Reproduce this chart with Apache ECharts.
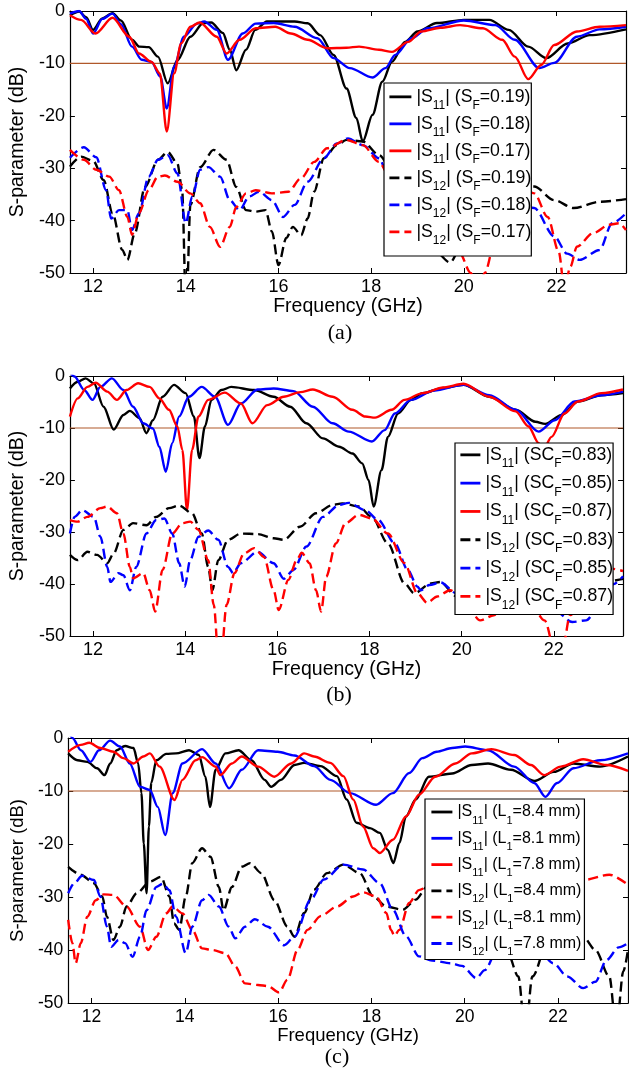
<!DOCTYPE html>
<html><head><meta charset="utf-8">
<script src="https://cdn.jsdelivr.net/npm/echarts@6/dist/echarts.min.js"></script>
<style>html,body{margin:0;padding:0;background:#fff}#c{width:629px;height:1077px}</style>
</head><body><div id="c"></div>
<script>
// ---------- axis settings ----------
const xMin = 11.5, xMax = 23.5;
const xTicks = [12, 14, 16, 18, 20, 22];
const yMin = -50, yMax = 0, yStep = 10;
const refLevel = -10;
const xName = 'Frequency (GHz)';
const yName = 'S-parameter (dB)';
const captions = ['(a)', '(b)', '(c)'];

// ---------- legend names ----------
const namesA = ['|S11| (SF=0.19)', '|S11| (SF=0.18)', '|S11| (SF=0.17)', '|S12| (SF=0.19)', '|S12| (SF=0.18)', '|S12| (SF=0.17)'];
const namesB = ['|S11| (SCF=0.83)', '|S11| (SCF=0.85)', '|S11| (SCF=0.87)', '|S12| (SCF=0.83)', '|S12| (SCF=0.85)', '|S12| (SCF=0.87)'];
const namesC = ['|S11| (L1=8.4 mm)', '|S11| (L1=8.1 mm)', '|S11| (L1=7.8 mm)', '|S12| (L1=8.4 mm)', '|S12| (L1=8.1 mm)', '|S12| (L1=7.8 mm)'];

// ---------- panel (a) data [GHz, dB] ----------
const a_S11_019 = [[11.5,-0.8],[11.7,-0.1],[11.85,-1.2],[12.0,-3.6],[12.2,-1.4],[12.42,-0.4],[12.6,-1.8],[12.84,-5.5],[13.0,-6.8],[13.2,-6.9],[13.4,-8.7],[13.61,-13.8],[13.82,-9.4],[14.1,-4.9],[14.38,-2.3],[14.55,-2.2],[14.8,-4.2],[14.95,-7.4],[15.09,-11.3],[15.3,-7.4],[15.5,-3.6],[15.75,-2.0],[16.0,-2.0],[16.35,-2.0],[16.63,-2.35],[16.9,-4.6],[17.19,-8.4],[17.47,-14.8],[17.68,-20.4],[17.82,-24.9],[18.03,-19.8],[18.24,-13.5],[18.45,-9.7],[18.73,-5.9],[19.0,-3.9],[19.42,-2.3],[20.0,-1.7],[20.55,-1.7],[20.97,-3.6],[21.39,-6.8],[21.78,-9.0],[22.24,-6.2],[22.72,-4.6],[23.5,-3.5]];
const a_S11_018 = [[11.5,-0.5],[11.7,0],[11.85,-1.5],[12.0,-4.3],[12.2,-1.5],[12.42,-0.5],[12.6,-2.5],[12.84,-6.8],[13.05,-9.3],[13.26,-9.7],[13.45,-12.5],[13.59,-18.6],[13.75,-10.6],[13.96,-4.9],[14.24,-2.4],[14.4,-2.0],[14.67,-3.6],[14.91,-9.3],[15.23,-4.3],[15.51,-2.4],[15.9,-2.3],[16.35,-3.0],[16.84,-5.2],[17.19,-9.0],[17.54,-10.9],[18.03,-12.7],[18.31,-10.9],[18.52,-8.4],[18.87,-5.2],[19.22,-3.3],[20.0,-1.8],[20.68,-2.7],[21.1,-5.5],[21.63,-10.9],[21.95,-9.9],[22.44,-4.9],[22.93,-3.5],[23.5,-3.0]];
const a_S11_017 = [[11.5,-0.8],[11.74,-1.7],[12.05,-4.3],[12.42,-1.3],[12.78,-4.9],[12.99,-8.1],[13.26,-9.7],[13.44,-11.9],[13.59,-23.0],[13.75,-11.9],[13.9,-6.2],[14.1,-3.0],[14.3,-2.2],[14.67,-4.9],[14.88,-8.1],[15.16,-5.5],[15.51,-3.3],[15.93,-3.0],[16.27,-4.3],[16.63,-5.5],[17.05,-7.1],[17.47,-7.0],[17.74,-6.8],[18.17,-7.4],[18.45,-7.8],[18.8,-5.9],[19.08,-3.9],[19.5,-3.2],[19.92,-2.7],[20.41,-3.3],[20.83,-5.5],[21.1,-8.7],[21.39,-13.0],[21.67,-10.3],[21.95,-6.5],[22.44,-3.9],[22.93,-3.0],[23.5,-2.7]];
const a_S12_019 = [[11.5,-29.7],[11.74,-27.8],[12.0,-28.6],[12.23,-32.3],[12.42,-38.6],[12.63,-45.6],[12.74,-47.5],[12.9,-42.4],[13.12,-33.6],[13.4,-28.4],[13.61,-26.9],[13.82,-29.1],[13.92,-34],[14.01,-58],[14.1,-37],[14.31,-29.8],[14.6,-26.5],[14.88,-28.4],[15.09,-33.6],[15.3,-38.0],[15.51,-38.3],[15.72,-38.0],[15.86,-42.1],[16.0,-48.5],[16.17,-43.3],[16.31,-41.2],[16.49,-42.8],[16.63,-39.6],[16.77,-34.5],[16.98,-28.1],[17.26,-25.6],[17.47,-24.6],[17.82,-24.9],[18.17,-27.5],[18.6,-33],[19.0,-40],[19.4,-46],[19.7,-48],[20.0,-44],[20.5,-37],[21.0,-33.5],[21.52,-33.5],[21.95,-36.1],[22.37,-37.6],[22.94,-36.4],[23.5,-35.9]];
const a_S12_018 = [[11.5,-28],[11.8,-26],[12.07,-27.9],[12.28,-34.2],[12.39,-39.6],[12.56,-38],[12.74,-38],[12.84,-41.8],[12.99,-38.6],[13.2,-31.6],[13.4,-28.4],[13.61,-27.5],[13.82,-31],[14.0,-40.5],[14.14,-35.4],[14.31,-30.3],[14.49,-29.8],[14.74,-31.6],[14.95,-36.1],[15.16,-38],[15.37,-35.4],[15.58,-34.5],[15.86,-36.1],[16.1,-39.3],[16.35,-37],[16.63,-32.6],[16.98,-28.1],[17.26,-25.3],[17.5,-24.3],[17.82,-25.6],[18.17,-28.1],[18.34,-30.7],[18.6,-33],[19.0,-37],[19.5,-40],[20.0,-40],[20.5,-38],[21.0,-36],[21.52,-37.6],[21.95,-43],[22.23,-46.3],[22.5,-47.5],[22.93,-45.6],[23.2,-40.5],[23.5,-38.6]];
const a_S12_017 = [[11.5,-26.5],[11.8,-28.4],[12.07,-30.3],[12.35,-31.6],[12.56,-34.2],[12.74,-39.3],[12.84,-42.7],[12.99,-38.6],[13.2,-34.2],[13.4,-31.6],[13.55,-31.4],[13.82,-32.6],[14.1,-34.8],[14.31,-36.7],[14.52,-41.2],[14.74,-45],[14.95,-41.2],[15.09,-37.4],[15.3,-34.8],[15.51,-34.2],[15.86,-34.8],[16.21,-34.5],[16.49,-31.9],[16.77,-28.8],[17.05,-26.2],[17.47,-24.6],[17.82,-25.6],[18.17,-28.8],[18.38,-31.3],[19.0,-37],[19.5,-42],[19.9,-46],[20.15,-50],[20.3,-54],[20.45,-50],[20.7,-43],[21.0,-37.5],[21.3,-34],[21.52,-34.8],[21.81,-39.3],[22.05,-46],[22.17,-53],[22.3,-48.8],[22.44,-45],[22.79,-42.4],[23.14,-40.8],[23.35,-40.5],[23.5,-41.8]];

// ---------- panel (b) data ----------
const b_S11_083 = [[11.5,-2.4],[11.67,-1.1],[11.84,-0.45],[12.02,-1.4],[12.23,-5.9],[12.45,-10.3],[12.66,-7.5],[12.8,-6.7],[13.01,-8.1],[13.16,-11.0],[13.3,-8.5],[13.51,-4.0],[13.76,-1.7],[14.01,-3.3],[14.19,-7.8],[14.31,-15.8],[14.43,-9.7],[14.57,-4.6],[14.79,-2.7],[15.0,-2.1],[15.5,-2.7],[15.92,-4.0],[16.28,-5.9],[16.63,-9.1],[16.99,-12.0],[17.34,-13.6],[17.63,-14.9],[17.84,-16.8],[17.98,-20],[18.09,-25.1],[18.26,-18.1],[18.4,-11.7],[18.62,-7.2],[18.9,-4.6],[19.15,-3.3],[19.6,-2.3],[20.04,-1.7],[20.6,-4.0],[21.17,-6.5],[21.6,-8.8],[21.81,-9.2],[22.17,-7.5],[22.52,-4.9],[23.03,-3.7],[23.5,-3.3]];
const b_S11_085 = [[11.5,0.8],[11.6,-0.1],[11.81,-2.7],[11.99,-4.6],[12.16,-2.1],[12.41,-0.45],[12.66,-2.7],[12.87,-5.9],[13.09,-9.1],[13.3,-10.1],[13.44,-13.6],[13.58,-18.4],[13.72,-12.9],[13.87,-7.8],[14.08,-4.0],[14.36,-2.1],[14.65,-4.0],[14.93,-9.4],[15.21,-5.3],[15.57,-2.6],[15.92,-2.4],[16.35,-2.9],[16.77,-5.9],[17.2,-9.1],[17.55,-10.7],[18.05,-12.6],[18.33,-10.4],[18.55,-7.2],[18.9,-4.6],[19.4,-2.8],[20.04,-1.7],[20.6,-3.7],[21.17,-6.5],[21.67,-10.7],[22.02,-8.5],[22.45,-4.9],[23.03,-3.7],[23.5,-3.0]];
const b_S11_087 = [[11.5,-7.8],[11.67,-4.3],[11.88,-2.1],[12.06,-1.3],[12.31,-3.0],[12.52,-4.6],[12.73,-2.7],[12.98,-1.4],[13.23,-2.1],[13.44,-4.3],[13.65,-6.5],[13.83,-9.7],[13.94,-14.2],[14.04,-25.8],[14.15,-14.2],[14.29,-7.8],[14.5,-4.6],[14.86,-3.2],[15.21,-5.3],[15.46,-9.1],[15.78,-5.6],[16.14,-4.0],[16.5,-3.1],[16.77,-2.6],[17.2,-4.0],[17.63,-6.5],[17.91,-7.8],[18.12,-8.0],[18.48,-6.5],[18.76,-4.6],[19.15,-3.3],[19.6,-2.2],[20.04,-1.5],[20.6,-4.0],[21.17,-6.8],[21.45,-9.7],[21.67,-12.9],[21.77,-14.2],[21.95,-11.7],[22.23,-7.2],[22.52,-4.9],[23.03,-3.3],[23.5,-2.6]];
const b_S12_083 = [[11.5,-34.4],[11.67,-35.4],[11.88,-33.8],[12.09,-34.4],[12.31,-36.0],[12.45,-34.1],[12.66,-29.6],[12.87,-28.3],[13.16,-28.7],[13.37,-27.1],[13.65,-25.4],[13.87,-24.9],[14.15,-26.4],[14.36,-30.3],[14.5,-36.7],[14.59,-41.2],[14.72,-35.4],[14.93,-31.5],[15.21,-30.3],[15.57,-30.4],[15.92,-31.2],[16.14,-31.5],[16.49,-29],[16.84,-26.4],[17.2,-24.8],[17.41,-24.5],[17.77,-25.1],[18.05,-27.1],[18.4,-32.2],[18.76,-39.9],[18.97,-41.8],[19.33,-39.9],[19.54,-39.6],[19.89,-42.4],[20.3,-43],[20.8,-44],[21.3,-43],[21.8,-42],[22.3,-41],[22.8,-40],[23.5,-39]];
const b_S12_085 = [[11.5,-30.3],[11.6,-27.1],[11.77,-25.8],[12.02,-27.1],[12.16,-30.9],[12.31,-36.7],[12.38,-39.6],[12.55,-37.9],[12.66,-38.3],[12.8,-41.2],[12.94,-36.7],[13.16,-30.3],[13.37,-27.7],[13.55,-27.4],[13.72,-30.3],[13.87,-36.0],[13.99,-40.5],[14.11,-35.4],[14.29,-30.9],[14.5,-29.7],[14.72,-31.5],[14.93,-36.7],[15.04,-37.9],[15.21,-36],[15.57,-33.8],[15.92,-36],[16.14,-39.0],[16.35,-37.3],[16.63,-32.8],[16.99,-27.1],[17.34,-24.8],[17.55,-24.4],[17.91,-25.8],[18.19,-27.7],[18.55,-32.2],[18.83,-37.3],[19.04,-40.5],[19.11,-41.2],[19.3,-40.2],[19.54,-39.7],[19.89,-41.8],[20.5,-43],[21.0,-43],[21.5,-44],[22.0,-45],[22.4,-47.3],[22.7,-47],[23.0,-44],[23.3,-40],[23.5,-38.5]];
const b_S12_087 = [[11.5,-27.7],[11.67,-28],[11.88,-27.1],[12.16,-25.4],[12.31,-25.1],[12.52,-26.4],[12.66,-30.3],[12.8,-36.7],[12.87,-38.9],[13.09,-37.9],[13.23,-41.2],[13.35,-45.3],[13.51,-37.3],[13.72,-30.3],[13.94,-28.3],[14.11,-28.0],[14.29,-29.6],[14.5,-35.4],[14.62,-44],[14.75,-58],[14.9,-44],[15.07,-37.9],[15.28,-34.1],[15.5,-33.1],[15.71,-34.8],[15.92,-41.2],[16.03,-45],[16.24,-39.2],[16.42,-35.4],[16.53,-34],[16.7,-36],[16.84,-41.2],[16.95,-45.3],[17.06,-38.6],[17.27,-32.2],[17.48,-28.3],[17.77,-26.7],[18.05,-27.4],[18.4,-30.3],[18.76,-36],[19.04,-41.8],[19.25,-43.6],[19.47,-42.4],[19.75,-41.2],[20.1,-44],[20.4,-47],[20.7,-46],[21.0,-42],[21.4,-42],[21.8,-47],[22.05,-54],[22.2,-52],[22.35,-46],[22.8,-40],[23.2,-37],[23.5,-37.5]];

// ---------- panel (c) data ----------
const c_S11_84 = [[11.5,-2.9],[11.7,-4.2],[11.91,-4.5],[12.12,-5.7],[12.28,-7.0],[12.4,-4.8],[12.54,-2.3],[12.72,-1.5],[12.9,-1.9],[13.0,-4.8],[13.07,-10.4],[13.12,-19.9],[13.18,-29.3],[13.23,-16.7],[13.28,-8.5],[13.39,-4.2],[13.6,-3.0],[13.81,-2.9],[14.09,-2.3],[14.3,-3.2],[14.44,-7.3],[14.54,-13.0],[14.66,-6.0],[14.87,-2.9],[15.15,-2.3],[15.43,-4.2],[15.71,-7.9],[15.85,-9.2],[16.06,-7.9],[16.35,-5.1],[16.56,-4.7],[16.91,-5.3],[17.26,-7.2],[17.47,-11.6],[17.68,-16.0],[17.97,-17.0],[18.18,-17.9],[18.35,-21.1],[18.47,-23.6],[18.6,-19.8],[18.74,-14.8],[18.95,-11.6],[19.23,-7.3],[19.73,-6.7],[20.15,-5.1],[20.5,-4.8],[20.99,-6.0],[21.49,-8.1],[21.91,-6.4],[22.33,-4.8],[22.9,-5.4],[23.5,-3.5]];
const c_S11_81 = [[11.5,1.5],[11.59,0],[11.77,-2.3],[11.98,-4.5],[12.16,-2.3],[12.4,-0.5],[12.61,-1.6],[12.82,-4.8],[13.04,-9.2],[13.25,-9.8],[13.42,-13.0],[13.58,-18.3],[13.74,-10.4],[13.95,-4.8],[14.37,-2.1],[14.66,-4.8],[14.95,-9.5],[15.22,-6.0],[15.57,-2.3],[15.99,-2.6],[16.35,-3.3],[16.77,-5.3],[17.12,-7.9],[17.54,-10.4],[18.1,-12.6],[18.46,-10.4],[18.81,-6.6],[19.09,-3.8],[19.4,-2.6],[19.73,-1.9],[20.01,-1.6],[20.5,-2.3],[21.06,-5.4],[21.49,-8.5],[21.73,-11.1],[21.98,-8.5],[22.33,-5.7],[22.9,-4.2],[23.5,-2.9]];
const c_S11_78 = [[11.5,-2.6],[11.77,-1.3],[11.95,-0.9],[12.19,-1.9],[12.47,-2.6],[12.68,-3.8],[12.9,-4.8],[13.11,-3.5],[13.25,-2.9],[13.46,-5.4],[13.78,-11.7],[13.95,-7.9],[14.23,-4.2],[14.37,-3.6],[14.66,-5.4],[14.76,-7.0],[15.01,-4.8],[15.22,-3.5],[15.57,-5.4],[15.92,-7.3],[16.28,-4.8],[16.56,-2.9],[16.77,-3.5],[17.12,-4.7],[17.4,-7.2],[17.61,-11.6],[17.82,-16.7],[18.04,-20.8],[18.18,-21.7],[18.46,-19.2],[18.74,-14.8],[19.02,-10.7],[19.37,-7.3],[19.8,-4.8],[20.15,-2.9],[20.57,-2.1],[21.06,-3.2],[21.42,-5.1],[21.7,-7.0],[22.06,-5.4],[22.54,-4.0],[23.04,-5.1],[23.5,-6.2]];
const c_S12_84 = [[11.5,-24.3],[11.77,-25.8],[12.05,-27.4],[12.23,-29.9],[12.33,-33.7],[12.47,-38.1],[12.61,-35.6],[12.75,-31.8],[12.97,-29.3],[13.25,-27.1],[13.49,-26.2],[13.67,-29.9],[13.77,-35],[13.88,-36.2],[14.02,-29.9],[14.16,-23.6],[14.37,-20.8],[14.55,-22.4],[14.73,-28.1],[14.83,-32.5],[15.01,-28.1],[15.22,-24.3],[15.4,-23.6],[15.64,-25.5],[15.92,-30.6],[16.2,-35.6],[16.35,-37.5],[16.56,-33.0],[16.77,-28.6],[17.05,-25.5],[17.4,-23.9],[17.75,-25.5],[18.04,-29.9],[18.32,-31.8],[18.67,-32.4],[18.95,-30.5],[19.2,-28],[19.6,-29],[20.0,-31],[20.5,-35],[20.9,-40],[21.15,-45],[21.3,-56],[21.45,-45],[21.8,-38],[22.2,-36],[22.54,-37.5],[22.8,-40],[23.1,-45],[23.25,-55],[23.4,-44],[23.5,-40]];
const c_S12_81 = [[11.5,-34.3],[11.59,-38.7],[11.66,-42.5],[11.77,-38.7],[11.91,-33.7],[12.09,-30.6],[12.26,-29.5],[12.47,-29.6],[12.75,-31.8],[13.04,-35.6],[13.21,-40],[13.39,-37.5],[13.6,-33.1],[13.74,-31.8],[13.95,-33.1],[14.16,-36.2],[14.37,-39.7],[14.59,-40],[14.87,-40.6],[15.08,-43.1],[15.29,-46.3],[15.57,-46.6],[15.78,-46.8],[16.02,-48],[16.2,-45.6],[16.42,-39.9],[16.63,-36.2],[16.91,-33.6],[17.26,-31.8],[17.61,-29.9],[17.82,-29.1],[18.1,-29.9],[18.32,-33],[18.42,-36.2],[18.49,-37.3],[18.6,-36.2],[18.81,-31.1],[19.02,-28.7],[19.2,-28.1],[19.6,-27.5],[20.0,-27],[20.5,-27],[21.0,-28],[21.5,-29],[22.0,-29],[22.54,-26.8],[23.1,-25.8],[23.5,-27.7]];
const c_S12_78 = [[11.5,-29.3],[11.63,-27.4],[11.8,-26],[12.05,-26.8],[12.19,-29.9],[12.33,-35.6],[12.42,-39.4],[12.58,-38.1],[12.72,-38.7],[12.88,-41.3],[13.04,-37.5],[13.18,-32.5],[13.39,-28.1],[13.53,-27.5],[13.67,-28.7],[13.81,-33.7],[14.02,-40.6],[14.16,-35.6],[14.37,-30.6],[14.51,-29.6],[14.73,-31.8],[14.94,-35.6],[15.08,-37.8],[15.29,-35.6],[15.5,-34.2],[15.78,-35.6],[16.13,-39.1],[16.35,-37.5],[16.7,-30.5],[16.98,-26.7],[17.4,-23.9],[17.82,-24.8],[18.18,-27.4],[18.46,-32.4],[18.74,-37.4],[19.02,-41.2],[19.3,-42],[19.7,-42.5],[19.94,-43],[20.25,-45.3],[20.43,-43.8],[20.7,-40],[21.1,-38],[21.5,-39],[21.9,-42.5],[22.2,-45],[22.54,-47.2],[22.8,-46],[23.04,-41.9],[23.3,-39.5],[23.5,-38.7]];

const refLine = [[xMin, refLevel], [xMax, refLevel]];

// ---------- styling ----------
const FONT = '"Liberation Sans", Arial, sans-serif';
const BLACK = '#000000', BLUE = '#0000ff', RED = '#ff0000', REF = '#b0582a';
const grids = [
  { left: 55, top: 11, width: 571, height: 262 },
  { left: 59, top: 376, width: 564, height: 260 },
  { left: 61, top: 738, width: 567, height: 265 }
];
const panelFont = [
  { tick: 18, name: 19.5 },
  { tick: 18, name: 19.5 },
  { tick: 17.5, name: 18.5 }
];

const xAxis = [], yAxis = [];
grids.forEach((g, i) => {
  const pf = panelFont[i];
  const line = { show: true, onZero: false, lineStyle: { color: '#000', width: 1.2 } };
  const tick = { show: true, inside: true, length: 5, lineStyle: { color: '#000', width: 1 } };
  xAxis.push({
    type: 'value', gridIndex: i, position: 'bottom', min: xMin, max: xMax,
    name: xName, nameLocation: 'middle', nameGap: 22,
    nameTextStyle: { fontSize: pf.name, fontFamily: FONT, color: '#000' },
    axisLine: line, axisTick: Object.assign({ customValues: xTicks }, tick),
    axisLabel: { customValues: xTicks, fontSize: pf.tick, fontFamily: FONT, color: '#000', margin: 5 },
    splitLine: { show: false }
  });
  xAxis.push({
    type: 'value', gridIndex: i, position: 'top', min: xMin, max: xMax,
    axisLine: line, axisTick: Object.assign({ customValues: xTicks }, tick),
    axisLabel: { show: false }, splitLine: { show: false }
  });
  yAxis.push({
    type: 'value', gridIndex: i, position: 'left', min: yMin, max: yMax, interval: yStep,
    name: yName, nameLocation: 'middle', nameGap: 34,
    nameTextStyle: { fontSize: pf.name, fontFamily: FONT, color: '#000' },
    axisLine: line, axisTick: tick,
    axisLabel: { fontSize: pf.tick, fontFamily: FONT, color: '#000', margin: 5 },
    splitLine: { show: false }
  });
  yAxis.push({
    type: 'value', gridIndex: i, position: 'right', min: yMin, max: yMax, interval: yStep,
    axisLine: line, axisTick: tick, axisLabel: { show: false }, splitLine: { show: false }
  });
});

function mk(name, data, color, dashed, g) {
  return {
    name, type: 'line', xAxisIndex: 2 * g, yAxisIndex: 2 * g, data,
    symbol: 'none', smooth: 0.3, smoothMonotone: 'x', clip: true,
    lineStyle: { color, width: 2.4, type: dashed ? [10, 5] : 'solid' },
    itemStyle: { color }, emphasis: { disabled: true }, z: 3
  };
}
function ref(g) {
  return {
    name: 'ref' + g, type: 'line', xAxisIndex: 2 * g, yAxisIndex: 2 * g, data: refLine,
    symbol: 'none', lineStyle: { color: REF, width: 1.1 }, emphasis: { disabled: true }, z: 2
  };
}
const colors = [BLACK, BLUE, RED, BLACK, BLUE, RED];
const colorsC = [BLACK, BLUE, RED, BLACK, RED, BLUE];
const dataA = [a_S11_019, a_S11_018, a_S11_017, a_S12_019, a_S12_018, a_S12_017];
const dataB = [b_S11_083, b_S11_085, b_S11_087, b_S12_083, b_S12_085, b_S12_087];
const dataC = [c_S11_84, c_S11_81, c_S11_78, c_S12_84, c_S12_81, c_S12_78];

const series = [ref(0), ref(1), ref(2)];
namesA.forEach((n, k) => series.push(mk(n, dataA[k], colors[k], k >= 3, 0)));
namesB.forEach((n, k) => series.push(mk(n, dataB[k], colors[k], k >= 3, 1)));
namesC.forEach((n, k) => series.push(mk(n, dataC[k], colorsC[k], k >= 3, 2)));

function fmt(name) {
  const m = name.match(/^\|S(\d\d)\| \((S|SC|L)(F|1)=(.*)\)$/);
  if (!m) return name;
  return '{n||S}{s|' + m[1] + '}{n|| (' + m[2] + '}{s|' + m[3] + '}{n|=' + m[4] + ')}';
}
function richFor(fs, sfs, pad) {
  return {
    n: { fontSize: fs, lineHeight: fs, verticalAlign: 'top', fontFamily: FONT, color: '#000' },
    s: { fontSize: sfs, lineHeight: sfs, verticalAlign: 'top', padding: [pad, 0, 0, 0], fontFamily: FONT, color: '#000' }
  };
}
function legend(names, left, top, padding, gap, fs, sfs, pad, iw) {
  return {
    orient: 'vertical', left, top, padding, itemGap: gap, itemWidth: iw, itemHeight: 12,
    backgroundColor: '#fff', borderColor: '#000', borderWidth: 1.2, borderRadius: 0,
    selectedMode: false, data: names, formatter: fmt,
    itemStyle: { opacity: 0 },
    lineStyle: { width: 2.8, type: 'inherit', color: 'inherit', opacity: 1 },
    textStyle: { fontFamily: FONT, color: '#000', rich: richFor(fs, sfs, pad) }
  };
}

const option = {
  animation: false,
  backgroundColor: '#fff',
  grid: grids,
  xAxis, yAxis, series,
  legend: [
    legend(namesA, 384, 83, [5, 0, 9, 4], 3, 17.7, 12, 12, 22),
    legend(namesB, 455, 443, [3, 0, 3, 4], 4.3, 17.7, 12, 12, 20),
    legend(namesC, 425, 799, [5, 3, 2, 5], 4.3, 16, 11, 11, 21)
  ],
  graphic: [
    { type: 'text', x: 340, y: 333, style: { text: captions[0], align: 'center', verticalAlign: 'middle', font: '22px "Liberation Serif", serif', fill: '#000' } },
    { type: 'text', x: 339, y: 695, style: { text: captions[1], align: 'center', verticalAlign: 'middle', font: '22px "Liberation Serif", serif', fill: '#000' } },
    { type: 'text', x: 337, y: 1057, style: { text: captions[2], align: 'center', verticalAlign: 'middle', font: '22px "Liberation Serif", serif', fill: '#000' } }
  ]
};
const chart = echarts.init(document.getElementById('c'));
chart.setOption(option);
</script>
</body></html>
